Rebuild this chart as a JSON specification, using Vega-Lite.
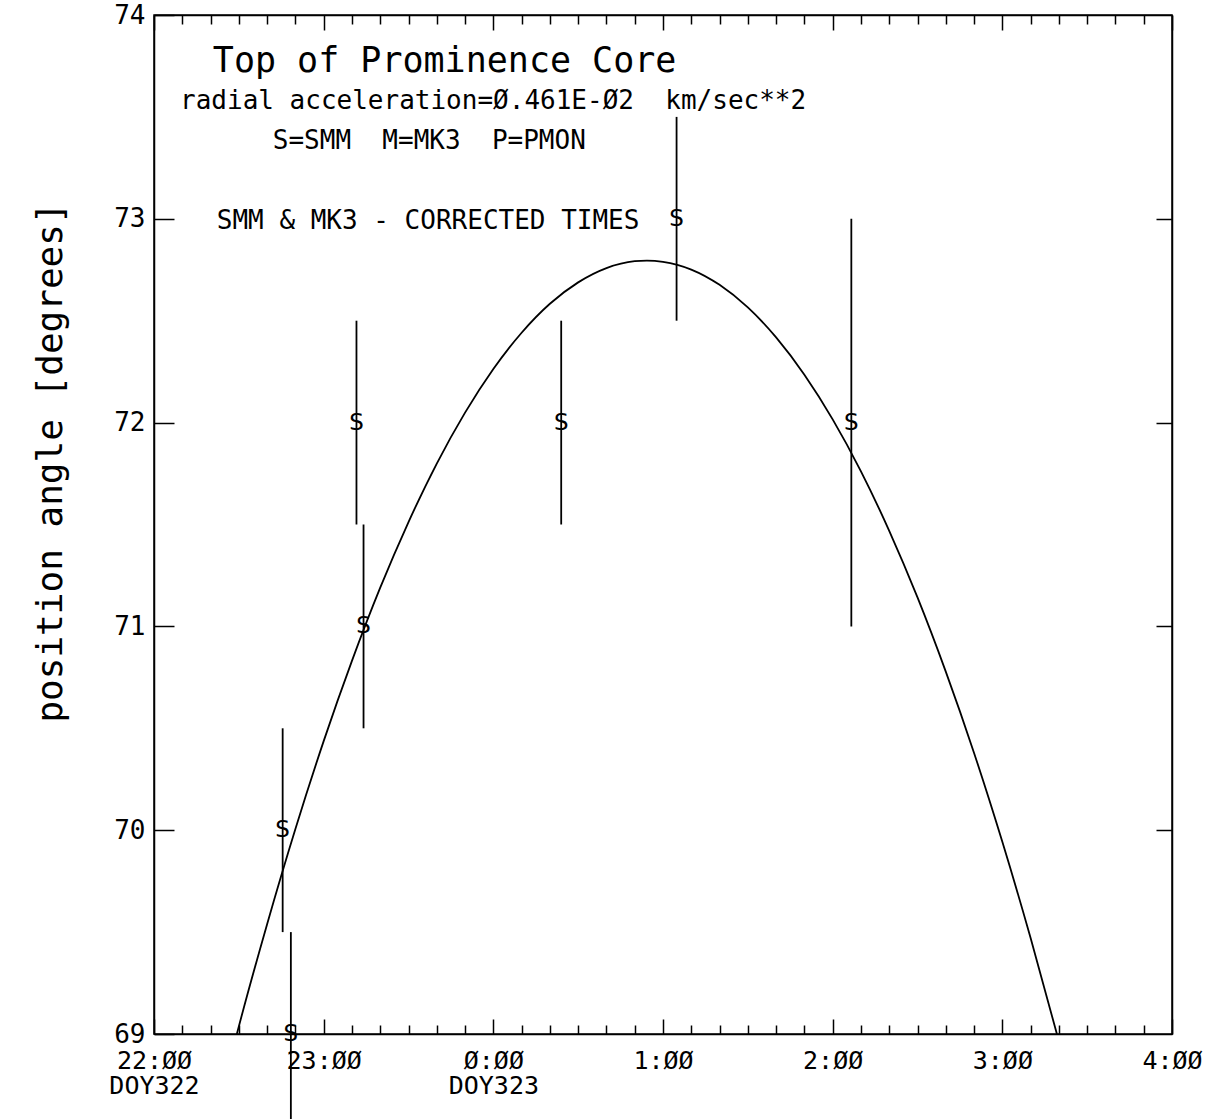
{
  "$schema": "https://vega.github.io/schema/vega-lite/v6.json",
  "width": 1018,
  "height": 1019,
  "autosize": {"type": "none"},
  "padding": {"left": 154, "top": 15, "right": 48, "bottom": 85},
  "background": "white",
  "config": {
    "view": {"stroke": "black", "strokeWidth": 1.5},
    "axis": {"domainColor": "black", "tickColor": "black", "labelColor": "black", "titleColor": "black", "grid": false, "tickWidth": 1.5, "domainWidth": 1.5, "labelFont": "DejaVu Sans Mono", "labelFontSize": 26, "labelOverlap": false, "labelFlush": false}
  },
  "datasets": {
    "curve": [
      {"t": 29.3, "pa": 69.0}, {"t": 30, "pa": 69.037}, {"t": 40, "pa": 69.539}, {"t": 50, "pa": 70.006},
      {"t": 60, "pa": 70.437}, {"t": 70, "pa": 70.831}, {"t": 80, "pa": 71.19}, {"t": 90, "pa": 71.512},
      {"t": 100, "pa": 71.799}, {"t": 110, "pa": 72.049}, {"t": 120, "pa": 72.263}, {"t": 130, "pa": 72.441},
      {"t": 140, "pa": 72.583}, {"t": 150, "pa": 72.688}, {"t": 160, "pa": 72.758}, {"t": 170, "pa": 72.792},
      {"t": 174.3, "pa": 72.795}, {"t": 180, "pa": 72.789}, {"t": 190, "pa": 72.751}, {"t": 200, "pa": 72.676},
      {"t": 210, "pa": 72.565}, {"t": 220, "pa": 72.418}, {"t": 230, "pa": 72.235}, {"t": 240, "pa": 72.016},
      {"t": 250, "pa": 71.761}, {"t": 260, "pa": 71.469}, {"t": 270, "pa": 71.142}, {"t": 280, "pa": 70.778},
      {"t": 290, "pa": 70.379}, {"t": 300, "pa": 69.943}, {"t": 310, "pa": 69.471}, {"t": 319.3, "pa": 69.0}
    ],
    "obs": [
      {"t": 45.5, "pa": 70.0, "lo": 69.5, "hi": 70.5, "inst": "S"},
      {"t": 48.4, "pa": 69.0, "lo": 68.5, "hi": 69.5, "inst": "S"},
      {"t": 71.6, "pa": 72.0, "lo": 71.5, "hi": 72.5, "inst": "S"},
      {"t": 74.1, "pa": 71.0, "lo": 70.5, "hi": 71.5, "inst": "S"},
      {"t": 144.0, "pa": 72.0, "lo": 71.5, "hi": 72.5, "inst": "S"},
      {"t": 184.8, "pa": 73.0, "lo": 72.5, "hi": 73.5, "inst": "S"},
      {"t": 246.6, "pa": 72.0, "lo": 71.0, "hi": 73.0, "inst": "S"}
    ],
    "notes": [
      {"kind": "title", "label": "Top of Prominence Core", "t": 20.8, "pa": 73.775},
      {"kind": "note", "label": "radial acceleration=Ø.461E-Ø2\u00a0\u00a0km/sec**2", "t": 9.2, "pa": 73.578},
      {"kind": "note", "label": "S=SMM\u00a0\u00a0M=MK3\u00a0\u00a0P=PMON", "t": 42.0, "pa": 73.382},
      {"kind": "note", "label": "SMM & MK3 - CORRECTED TIMES", "t": 22.2, "pa": 72.99}
    ]
  },
  "layer": [
    {
      "data": {"name": "curve"},
      "mark": {"type": "line", "color": "black", "strokeWidth": 1.8, "interpolate": "monotone"},
      "encoding": {
        "x": {"field": "t", "type": "quantitative", "scale": {"domain": [0, 360], "nice": false, "zero": false},
          "axis": {"orient": "bottom", "title": null,
            "values": [0,10,20,30,40,50,60,70,80,90,100,110,120,130,140,150,160,170,180,190,200,210,220,230,240,250,260,270,280,290,300,310,320,330,340,350,360],
            "tickSize": {"condition": {"test": "datum.value % 60 === 0", "value": -15}, "value": -9},
            "labelPadding": 29, "labelBaseline": "top", "labelLineHeight": 25, "labelFontSize": 25,
            "labelExpr": "datum.value === 0 ? ['22:ØØ', 'DOY322'] : datum.value === 60 ? '23:ØØ' : datum.value === 120 ? ['Ø:ØØ', 'DOY323'] : datum.value === 180 ? '1:ØØ' : datum.value === 240 ? '2:ØØ' : datum.value === 300 ? '3:ØØ' : datum.value === 360 ? '4:ØØ' : ''"}},
        "y": {"field": "pa", "type": "quantitative", "scale": {"domain": [69, 74], "nice": false, "zero": false},
          "axis": {"orient": "left", "values": [69, 70, 71, 72, 73, 74], "tickSize": -20, "labelPadding": 29,
            "title": "position angle [degrees]", "titleFont": "DejaVu Sans Mono", "titleFontSize": 36, "titleFontWeight": "normal",
            "titleAngle": -90, "titleAlign": "center", "titleBaseline": "middle", "titleX": -104, "titleY": 447}}
      }
    },
    {
      "data": {"name": "obs"},
      "mark": {"type": "rule", "color": "black", "strokeWidth": 1.8},
      "encoding": {
        "x": {"field": "t", "type": "quantitative",
          "axis": {"orient": "top", "title": null, "labels": false,
            "values": [0,10,20,30,40,50,60,70,80,90,100,110,120,130,140,150,160,170,180,190,200,210,220,230,240,250,260,270,280,290,300,310,320,330,340,350,360],
            "tickSize": {"condition": {"test": "datum.value % 60 === 0", "value": -15}, "value": -9}}},
        "y": {"field": "lo", "type": "quantitative",
          "axis": {"orient": "right", "title": null, "labels": false, "values": [70, 71, 72, 73], "tickSize": -16}},
        "y2": {"field": "hi"}
      }
    },
    {
      "data": {"name": "obs"},
      "mark": {"type": "text", "font": "DejaVu Sans", "fontSize": 23, "color": "black", "align": "center", "baseline": "middle"},
      "encoding": {
        "x": {"field": "t", "type": "quantitative", "axis": null},
        "y": {"field": "pa", "type": "quantitative", "axis": null},
        "text": {"field": "inst"}
      }
    },
    {
      "data": {"name": "notes"},
      "transform": [{"filter": "datum.kind === 'title'"}],
      "mark": {"type": "text", "font": "DejaVu Sans Mono", "fontSize": 35, "color": "black", "align": "left", "baseline": "middle"},
      "encoding": {
        "x": {"field": "t", "type": "quantitative", "axis": null},
        "y": {"field": "pa", "type": "quantitative", "axis": null},
        "text": {"field": "label"}
      }
    },
    {
      "data": {"name": "notes"},
      "transform": [{"filter": "datum.kind === 'note'"}],
      "mark": {"type": "text", "font": "DejaVu Sans Mono", "fontSize": 26, "color": "black", "align": "left", "baseline": "middle"},
      "encoding": {
        "x": {"field": "t", "type": "quantitative", "axis": null},
        "y": {"field": "pa", "type": "quantitative", "axis": null},
        "text": {"field": "label"}
      }
    }
  ],
  "resolve": {"axis": {"x": "independent", "y": "independent"}}
}
